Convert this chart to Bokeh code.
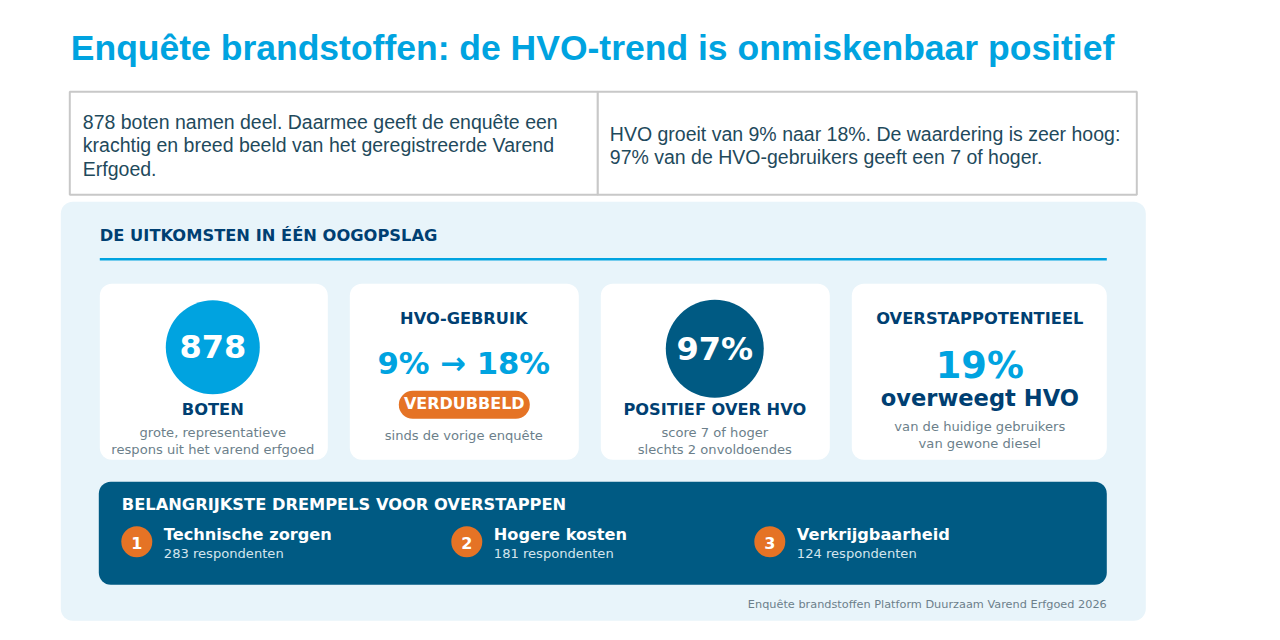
# Infographic: results of the fuel survey, drawn on one figure in page pixels.

from bokeh.core.properties import value
from bokeh.embed import file_html
from bokeh.plotting import figure
from bokeh.resources import INLINE

BLUE = "#00A3E0"
PETROL = "#005A83"
NAVY = "#003F72"
ORANGE = "#E57325"
GREY = "#6C7F8B"
INK = "#1F4A5C"
PALE = "#E8F4FA"

TITLE = "Enquête brandstoffen: de HVO-trend is onmiskenbaar positief"
INTRO_LEFT = [
    "878 boten namen deel. Daarmee geeft de enquête een",
    "krachtig en breed beeld van het geregistreerde Varend",
    "Erfgoed.",
]
INTRO_RIGHT = [
    "HVO groeit van 9% naar 18%. De waardering is zeer hoog:",
    "97% van de HVO-gebruikers geeft een 7 of hoger.",
]
HEADING = "DE UITKOMSTEN IN ÉÉN OOGOPSLAG"

BOATS = "878"
BOATS_LABEL = "BOTEN"
BOATS_NOTE = ["grote, representatieve", "respons uit het varend erfgoed"]
USE_LABEL = "HVO-GEBRUIK"
USE_VALUE = "9% → 18%"
USE_BADGE = "VERDUBBELD"
USE_NOTE = "sinds de vorige enquête"
SCORE = "97%"
SCORE_LABEL = "POSITIEF OVER HVO"
SCORE_NOTE = ["score 7 of hoger", "slechts 2 onvoldoendes"]
SWITCH_LABEL = "OVERSTAPPOTENTIEEL"
SWITCH_VALUE = "19%"
SWITCH_TEXT = "overweegt HVO"
SWITCH_NOTE = ["van de huidige gebruikers", "van gewone diesel"]

BARRIER_HEADING = "BELANGRIJKSTE DREMPELS VOOR OVERSTAPPEN"
BARRIER_NAMES = ["Technische zorgen", "Hogere kosten", "Verkrijgbaarheid"]
BARRIER_COUNTS = [283, 181, 124]
BARRIER_X = [137, 467, 770]
SOURCE = "Enquête brandstoffen Platform Duurzaam Varend Erfgoed 2026"

CARD_LEFT = [100, 350, 601, 852]
CARD_RIGHT = [328, 579, 830, 1107]

p = figure(
    width=1264,
    height=624,
    x_range=(0.7, 1264.7),
    y_range=(624.7, 0.7),
    output_backend="svg",
    toolbar_location=None,
    min_border=0,
    outline_line_color=None,
)
p.xaxis.visible = False
p.yaxis.visible = False
p.grid.visible = False


def label(x, y, text, size, color, font="DejaVu Sans", bold=False, align="center"):
    p.text(
        [x],
        [y],
        text=[text],
        text_font=value(font),
        text_font_size=f"{size}px",
        text_font_style="bold" if bold else "normal",
        text_color=color,
        text_align=align,
        text_baseline="middle",
    )


# title and intro table
label(71, 48, TITLE, 35.5, BLUE, font="Liberation Sans", bold=True, align="left")
p.quad(
    left=[70, 598],
    right=[598, 1137],
    top=[92, 92],
    bottom=[195, 195],
    fill_color="white",
    line_color="#C8C8C8",
    line_width=2,
)
for y, line in zip([122, 145, 169], INTRO_LEFT):
    label(83, y, line, 19.5, INK, font="Liberation Sans", align="left")
for y, line in zip([134, 157], INTRO_RIGHT):
    label(610, y, line, 19.5, INK, font="Liberation Sans", align="left")

# pale panel
p.quad(
    left=[61],
    right=[1146],
    top=[202],
    bottom=[621],
    fill_color=PALE,
    line_color=None,
    border_radius=12,
)
label(100, 236, HEADING, 16.3, NAVY, bold=True, align="left")
p.line([100, 1107], [259.5, 259.5], line_color=BLUE, line_width=2.5)

# cards
p.quad(
    left=CARD_LEFT,
    right=CARD_RIGHT,
    top=[284] * 4,
    bottom=[460] * 4,
    fill_color="white",
    line_color=None,
    border_radius=12,
)

p.circle([213], [347.5], radius=47, fill_color=BLUE, line_color=None)
label(213, 347, BOATS, 32, "white", bold=True)
label(213, 410, BOATS_LABEL, 16.3, NAVY, bold=True)
for y, line in zip([433, 450], BOATS_NOTE):
    label(213, y, line, 13.1, GREY)

label(464, 319, USE_LABEL, 16.2, NAVY, bold=True)
label(464, 364, USE_VALUE, 30.7, BLUE, bold=True)
p.quad(
    left=[399],
    right=[530],
    top=[391],
    bottom=[419],
    fill_color=ORANGE,
    line_color=None,
    border_radius=14,
)
label(464.5, 404, USE_BADGE, 16, "white", bold=True)
label(464, 436, USE_NOTE, 13.1, GREY)

p.circle([715], [349], radius=49, fill_color=PETROL, line_color=None)
label(715, 349, SCORE, 32, "white", bold=True)
label(715, 410, SCORE_LABEL, 16.2, NAVY, bold=True)
for y, line in zip([433, 450], SCORE_NOTE):
    label(715, y, line, 13.1, GREY)

label(980, 319, SWITCH_LABEL, 16.3, NAVY, bold=True)
label(980, 366, SWITCH_VALUE, 36.8, BLUE, bold=True)
label(980, 398, SWITCH_TEXT, 22.6, NAVY, bold=True)
for y, line in zip([427, 444], SWITCH_NOTE):
    label(980, y, line, 13.1, GREY)

# barriers
p.quad(
    left=[99],
    right=[1107],
    top=[482],
    bottom=[585],
    fill_color=PETROL,
    line_color=None,
    border_radius=12,
)
label(122, 505, BARRIER_HEADING, 16.25, "white", bold=True, align="left")
p.circle(BARRIER_X, [542] * 3, radius=15.5, fill_color=ORANGE, line_color=None)
for i, (x, name, count) in enumerate(zip(BARRIER_X, BARRIER_NAMES, BARRIER_COUNTS)):
    label(x, 543, str(i + 1), 16, "white", bold=True)
    label(x + 27, 535, name, 16.2, "white", bold=True, align="left")
    label(x + 27, 554, f"{count} respondenten", 13.1, "#D3E5EE", align="left")

label(1107, 605, SOURCE, 11.3, GREY, align="right")

open("out.html", "w").write(file_html(p, INLINE))
